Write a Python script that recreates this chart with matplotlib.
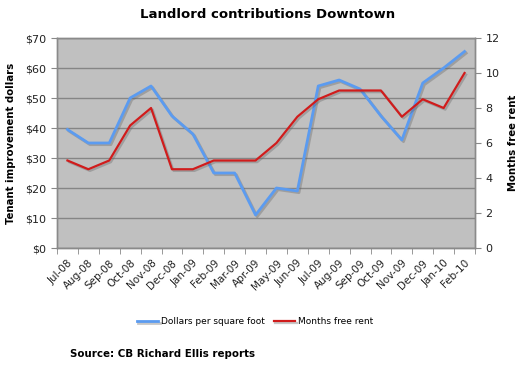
import numpy as np
import matplotlib
matplotlib.use("Agg")
import matplotlib.pyplot as plt
import matplotlib.patheffects as pe
from matplotlib.ticker import FixedLocator

# data
months = ["Jul-08", "Aug-08", "Sep-08", "Oct-08", "Nov-08", "Dec-08", "Jan-09",
          "Feb-09", "Mar-09", "Apr-09", "May-09", "Jun-09", "Jul-09", "Aug-09",
          "Sep-09", "Oct-09", "Nov-09", "Dec-09", "Jan-10", "Feb-10"]
dollars = [39.5, 35, 35, 50, 54, 44, 38, 25, 25, 11, 20, 19, 54, 56, 53, 44, 36, 55, 60, 65.5]
free_rent = [5, 4.5, 5, 7, 8, 4.5, 4.5, 5, 5, 5, 6, 7.5, 8.5, 9, 9, 9, 7.5, 8.5, 8, 10]

plt.rcParams['font.family'] = ['DejaVu Sans']

fig = plt.figure(figsize=(5.2, 3.65), dpi=100)
ax = fig.add_axes([57/520, 1 - 248/365, 418/520, 210/365])
ax2 = ax.twinx()

x = np.arange(len(months))
shadow = [pe.SimpleLineShadow(offset=(1.2, -1.2), shadow_color='#606060', alpha=0.35), pe.Normal()]

l1, = ax.plot(x, dollars, color='#5b9bf0', lw=2, path_effects=shadow, zorder=3)
l2, = ax2.plot(x, free_rent, color='#d01c1c', lw=1.6, path_effects=shadow, zorder=3)

ax.set_facecolor('#c0c0c0')
ax.set_xlim(-0.5, len(months) - 0.5)
ax.set_ylim(0, 70)
ax2.set_ylim(0, 12)
ax.set_yticks(np.arange(0, 71, 10))
ax.set_yticklabels(["$%d" % v for v in range(0, 71, 10)])
ax2.set_yticks(np.arange(0, 13, 2))
ax.grid(axis='y', color='#858585', lw=1)
ax.set_axisbelow(True)

ax.set_xticks(x)
ax.set_xticklabels(months, rotation=45, ha='right', rotation_mode='anchor')
ax.xaxis.set_minor_locator(FixedLocator(np.arange(-0.5, len(months), 1)))
ax.tick_params(axis='x', which='major', length=0, pad=7, labelsize=7.5, colors='#222222')
ax.tick_params(axis='x', which='minor', length=4, color='#888888')
ax.tick_params(axis='y', length=4, color='#888888', labelsize=8, labelcolor='#222222')
ax2.tick_params(axis='y', length=4, color='#888888', labelsize=8, labelcolor='#222222')

for a in (ax, ax2):
    for s in a.spines.values():
        s.set_color('#8a8a8a')
        s.set_linewidth(1)

ax.set_ylabel("Tenant improvement dollars", fontsize=7.3, fontweight='bold', labelpad=7)
ax2.set_ylabel("Months free rent", fontsize=7.3, fontweight='bold', labelpad=6)

fig.text(0.515, 1 - 15/365, "Landlord contributions Downtown", ha='center', va='center',
         fontsize=9.5, fontweight='bold')

fig.legend([l1, l2], ["Dollars per square foot", "Months free rent"], loc='center',
           bbox_to_anchor=(255/520, 1 - 322/365), ncol=2, frameon=False, fontsize=6.5,
           handlelength=2.4, columnspacing=1.0, handletextpad=0.3)

fig.text(70/520, 1 - 354/365, "Source: CB Richard Ellis reports", ha='left', va='center',
         fontsize=7.4, fontweight='bold')

fig.savefig("out.png", dpi=100)
